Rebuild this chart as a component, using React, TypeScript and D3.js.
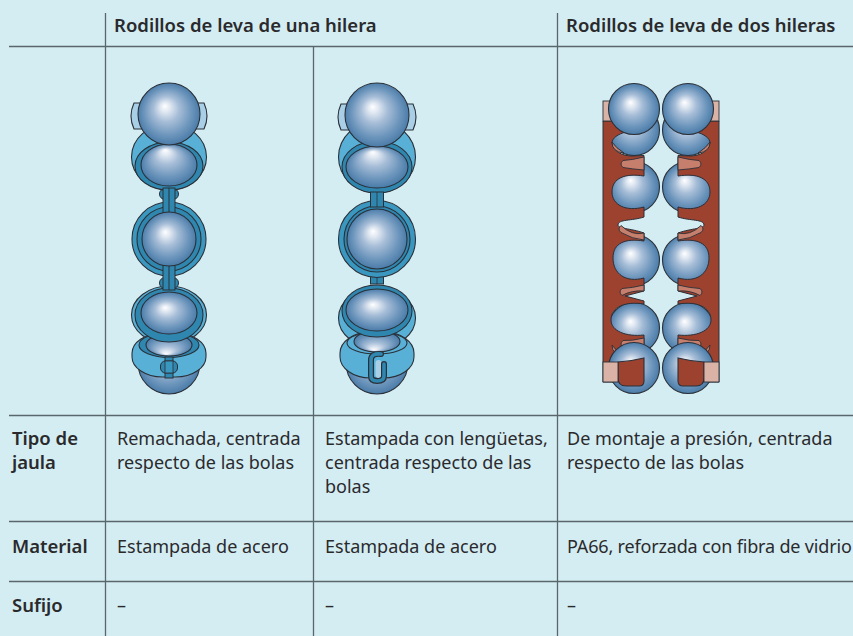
import React from "react";
import * as d3 from "d3";

// table text
const groupHeaders = ["Rodillos de leva de una hilera", "Rodillos de leva de dos hileras"];
const rowHeaders = [["Tipo de", "jaula"], ["Material"], ["Sufijo"]];
const cagePressed = [
  ["Remachada, centrada", "respecto de las bolas"],
  ["Estampada de acero"],
  ["–"],
];
const cageTabbed = [
  ["Estampada con lengüetas,", "centrada respecto de las", "bolas"],
  ["Estampada de acero"],
  ["–"],
];
const cageSnap = [
  ["De montaje a presión, centrada", "respecto de las bolas"],
  ["PA66, reforzada con fibra de vidrio"],
  ["–"],
];
const columns = [cagePressed, cageTabbed, cageSnap];

const WIDTH = 853;
const HEIGHT = 636;
const BG = "#d4edf2";
const RULE = "#59676c";
const INK = "#2a2a2d";
const EDGE = "#2b3038";
const LIGHT = "#58b0d6";
const RING = "#2f87b0";
const TAB = "#a8cfe6";
const RED = "#9e4230";
const FIN = "#c67f6c";
const PALE = "#dbb3a6";
const FONT = "'Noto Sans', sans-serif";

const colX = [117, 325, 567];
const rowBaseline = [445, 553, 612];
const LINE = 24;

type BallProps = { cx: number; cy: number; r: number; ry?: number; shade?: string };

const Ball = ({ cx, cy, r, ry, shade = "ball" }: BallProps) => (
  <ellipse cx={cx} cy={cy} rx={r} ry={ry ?? r} fill={`url(#${shade})`} stroke={EDGE} strokeWidth={1.1} />
);

const Disc = ({ cx, cy, rx, ry, fill }: { cx: number; cy: number; rx: number; ry?: number; fill: string }) => (
  <ellipse cx={cx} cy={cy} rx={rx} ry={ry ?? rx} fill={fill} stroke={EDGE} strokeWidth={1.1} />
);

// lower cage lobe, flatter than an ellipse
const Lobe = ({ cx, y0, y1, half }: { cx: number; y0: number; y1: number; half: number }) => (
  <rect
    x={cx - half}
    y={y0}
    width={half * 2}
    height={y1 - y0}
    rx={half * 0.82}
    ry={(y1 - y0) * 0.46}
    fill={LIGHT}
    stroke={EDGE}
    strokeWidth={1.1}
  />
);

// side tab behind the top ball
const tabPath = (x0: number, x1: number, y0: number, y1: number) => {
  const side = x1 > x0 ? 1 : -1;
  const p = d3.path();
  p.moveTo(x1, y0);
  p.lineTo(x0 + side * 3, y0);
  p.quadraticCurveTo(x0 - side * 3, (y0 + y1) / 2, x0 + side * 3, y1);
  p.lineTo(x1, y1);
  p.closePath();
  return p.toString();
};

// riveted steel cage, one row
const RivetedCage = ({ cx }: { cx: number }) => {
  const bump = (cy: number) => (
    <g>
      <circle cx={cx - 4} cy={cy} r={5.5} fill={RING} stroke={EDGE} strokeWidth={1} />
      <circle cx={cx + 4} cy={cy} r={5.5} fill={RING} stroke={EDGE} strokeWidth={1} />
    </g>
  );
  const neck = (y0: number, y1: number) => (
    <g>
      <rect x={cx - 6} y={y0} width={12} height={y1 - y0} fill={RING} stroke={EDGE} strokeWidth={1} />
      <line x1={cx} x2={cx} y1={y0} y2={y1} stroke={EDGE} strokeWidth={1} />
    </g>
  );
  return (
    <g>
      <Ball cx={cx} cy={363} r={31} />
      <Disc cx={cx} cy={315} rx={37.5} ry={29} fill={LIGHT} />
      <Lobe cx={cx} y0={333} y1={377} half={37} />
      <Disc cx={cx} cy={345} rx={30} ry={12.5} fill={RING} />
      <Ball cx={cx} cy={345} r={23} ry={11} shade="ballBottom" />
      <rect x={cx - 4} y={357} width={8} height={21} fill={RING} stroke={EDGE} strokeWidth={1} />
      <rect x={cx - 8.5} y={361} width={17} height={12} rx={5} fill={RING} stroke={EDGE} strokeWidth={1} />
      <rect x={cx - 4} y={361} width={8} height={12} fill="#3a97bf" stroke={EDGE} strokeWidth={0.8} />
      {bump(194)}
      {bump(283)}
      <Disc cx={cx} cy={315} rx={34} ry={27} fill={RING} />
      <Ball cx={cx} cy={313} r={28} ry={21} />
      <Disc cx={cx} cy={157} rx={37.5} ry={33} fill={LIGHT} />
      <Disc cx={cx} cy={166} rx={34} ry={24} fill={RING} />
      <Ball cx={cx} cy={165} r={28} ry={21} shade="ballTop" />
      <Disc cx={cx} cy={239} rx={37} fill="#3a97bf" />
      <Disc cx={cx} cy={239} rx={32} fill={RING} />
      {neck(188, 214)}
      {neck(264, 290)}
      <Ball cx={cx} cy={239} r={27} />
      <path d={tabPath(cx - 38, cx - 25, 103, 129)} fill={TAB} stroke={EDGE} strokeWidth={1.1} />
      <path d={tabPath(cx + 38, cx + 25, 103, 129)} fill={TAB} stroke={EDGE} strokeWidth={1.1} />
      <Ball cx={cx} cy={114} r={31} />
    </g>
  );
};

// stamped steel cage with hook tab
const TabbedCage = ({ cx }: { cx: number }) => {
  const hook = d3.path();
  hook.moveTo(cx + 4, 354);
  hook.quadraticCurveTo(cx - 6, 353, cx - 6, 360);
  hook.lineTo(cx - 6, 376);
  hook.quadraticCurveTo(cx - 6, 381, cx, 381);
  hook.quadraticCurveTo(cx + 7, 381, cx + 7, 376);
  hook.lineTo(cx + 7, 364);
  const link = (y0: number, y1: number) => (
    <g>
      <rect x={cx - 6.5} y={y0} width={13} height={y1 - y0} fill={RING} stroke={EDGE} strokeWidth={1} />
      <line x1={cx} x2={cx} y1={y0} y2={y1} stroke={EDGE} strokeWidth={0.8} />
    </g>
  );
  return (
    <g>
      <Ball cx={cx} cy={363} r={31} />
      <Disc cx={cx} cy={318} rx={38.5} ry={30} fill={LIGHT} />
      <Lobe cx={cx} y0={332} y1={378} half={37} />
      <Disc cx={cx} cy={343} rx={30} ry={11} fill={LIGHT} />
      <Ball cx={cx} cy={341.5} r={23} ry={10.5} shade="ballBottom" />
      <rect x={cx - 1.5} y={360} width={6} height={18} rx={3} fill={TAB} />
      <path d={hook.toString()} fill="none" stroke={EDGE} strokeWidth={6} strokeLinecap="round" />
      <path d={hook.toString()} fill="none" stroke={RING} strokeWidth={3.6} strokeLinecap="round" />
      {link(268, 284)}
      <Disc cx={cx} cy={311} rx={35} ry={26} fill={RING} />
      <Ball cx={cx} cy={310} r={31} ry={21} />
      <Disc cx={cx} cy={157} rx={38.5} ry={36} fill={LIGHT} />
      <Disc cx={cx} cy={167} rx={35} ry={26} fill={RING} />
      <Ball cx={cx} cy={167} r={31} ry={21} shade="ballTop" />
      <Disc cx={cx} cy={239} rx={38.5} fill="#3a97bf" />
      <Disc cx={cx} cy={239} rx={33} fill={RING} />
      {link(192, 207)}
      <Ball cx={cx} cy={239} r={30} />
      <path d={tabPath(cx - 39, cx - 25, 104, 130)} fill={TAB} stroke={EDGE} strokeWidth={1.1} />
      <path d={tabPath(cx + 39, cx + 25, 104, 130)} fill={TAB} stroke={EDGE} strokeWidth={1.1} />
      <Ball cx={cx} cy={115} r={32} />
    </g>
  );
};

// inner edge of the polyamide cage: pockets and notches, left half
const snapCagePath = () => {
  const x = 644;
  const p = d3.path();
  p.moveTo(603, 121);
  p.lineTo(626, 121);
  p.lineTo(626, 132);
  p.bezierCurveTo(618, 134, 612, 138, 612, 143);
  p.bezierCurveTo(613, 151, 622, 156, 632, 156);
  p.lineTo(x, 155.5);
  p.lineTo(x, 176);
  p.bezierCurveTo(625, 173, 612, 178, 612, 192);
  p.bezierCurveTo(612, 205, 626, 212, x, 207);
  p.lineTo(x, 217);
  p.bezierCurveTo(632, 221, 618, 219, 618, 225);
  p.bezierCurveTo(618, 229, 630, 228, x, 233);
  p.lineTo(x, 241);
  p.bezierCurveTo(625, 238, 613, 243, 613, 258);
  p.bezierCurveTo(613, 274, 626, 283, x, 278);
  p.lineTo(x, 291);
  p.lineTo(625, 296);
  p.lineTo(x, 301);
  p.lineTo(x, 304);
  p.bezierCurveTo(625, 301, 611, 307, 611, 320);
  p.bezierCurveTo(611, 331, 626, 337, x, 335);
  p.lineTo(x, 382);
  p.lineTo(603, 382);
  p.closePath();
  return p.toString();
};

const finPaths = () => {
  // tip x, tip y, top y at bar, bottom y at bar
  const shapes: [number, number, number, number][] = [
    [621, 164, 157, 170],
    [619, 229, 233, 240],
    [620, 292, 285, 291],
    [621, 344, 338, 346],
  ];
  return shapes.map(([tx, ty, y0, y1]) => {
    const p = d3.path();
    p.moveTo(644, y0);
    p.quadraticCurveTo(632, y0 + 3, tx + 2, ty - 3.5);
    p.quadraticCurveTo(tx - 2, ty, tx + 2, ty + 3.5);
    p.quadraticCurveTo(632, y1 - 1, 644, y1);
    p.closePath();
    return p.toString();
  });
};

const crescent = (cy: number) => {
  const p = d3.path();
  p.moveTo(612, cy);
  p.quadraticCurveTo(612, cy + 10, 624, cy + 11);
  p.quadraticCurveTo(616, cy + 6, 612, cy);
  return p.toString();
};

const insertPath = () => {
  const p = d3.path();
  p.moveTo(618, 362);
  p.quadraticCurveTo(632, 361, 644, 358);
  p.lineTo(644, 381);
  p.quadraticCurveTo(644, 386, 639, 386);
  p.lineTo(626, 386);
  p.quadraticCurveTo(618, 386, 618, 378);
  p.closePath();
  return p.toString();
};

const SnapCage = () => {
  const ballsLeft = 634;
  const ballsRight = 688;
  const axis = 661;
  const half = (
    <g>
      <path d={snapCagePath()} fill={RED} stroke={EDGE} strokeWidth={1} />
      {finPaths().map((d, i) => (
        <path key={i} d={d} fill={FIN} stroke={EDGE} strokeWidth={0.9} />
      ))}
      <path d={crescent(142)} fill={FIN} stroke={EDGE} strokeWidth={0.9} />
      <path d={crescent(345)} fill={FIN} stroke={EDGE} strokeWidth={0.9} />
      <rect x={603} y={101} width={30} height={20} fill={PALE} stroke={EDGE} strokeWidth={0.9} />
    </g>
  );
  const rows = [130, 187, 260, 328];
  return (
    <g>
      {rows.map((cy) => (
        <g key={cy}>
          <Ball cx={ballsLeft} cy={cy} r={25.5} />
          <Ball cx={ballsRight} cy={cy} r={25.5} />
        </g>
      ))}
      {half}
      <g transform={`translate(${axis * 2},0) scale(-1,1)`}>{half}</g>
      {[ballsLeft, ballsRight].map((cx) => (
        <g key={cx}>
          <Ball cx={cx} cy={109} r={25.5} />
          <Ball cx={cx} cy={368} r={25.5} />
        </g>
      ))}
      {[0, 1].map((i) => (
        <g key={i} transform={i ? `translate(${axis * 2},0) scale(-1,1)` : undefined}>
          <path d={insertPath()} fill={RED} stroke={EDGE} strokeWidth={1.1} />
          <rect x={603} y={362} width={15} height={20} fill={PALE} stroke={EDGE} strokeWidth={0.9} />
        </g>
      ))}
    </g>
  );
};

const Shade = ({ id, fy }: { id: string; fy: number }) => (
  <radialGradient id={id} cx="0.5" cy="0.5" r="0.52" fx="0.43" fy={fy}>
    <stop offset="0" stopColor="#ffffff" />
    <stop offset="0.14" stopColor="#e3eaf3" />
    <stop offset="0.4" stopColor="#a6bdd7" />
    <stop offset="0.72" stopColor="#6f97bd" />
    <stop offset="1" stopColor="#4578a6" />
  </radialGradient>
);

export default function App() {
  return (
    <svg
      width={WIDTH}
      height={HEIGHT}
      viewBox={`0 0 ${WIDTH} ${HEIGHT}`}
      style={{ position: "absolute", left: 0, top: 0, background: BG, fontFamily: FONT }}
    >
      <defs>
        <Shade id="ball" fy={0.37} />
        <Shade id="ballTop" fy={0.14} />
        <Shade id="ballBottom" fy={0.92} />
      </defs>

      <RivetedCage cx={169} />
      <TabbedCage cx={377} />
      <SnapCage />

      {/* rules */}
      <g stroke={RULE} strokeWidth={1.3}>
        <line x1={105.5} x2={105.5} y1={13} y2={HEIGHT} />
        <line x1={557.5} x2={557.5} y1={13} y2={HEIGHT} />
        <line x1={313.5} x2={313.5} y1={46} y2={HEIGHT} />
        {[46, 415, 521, 581].map((y) => (
          <line key={y} x1={9} x2={WIDTH} y1={y + 0.5} y2={y + 0.5} />
        ))}
      </g>

      {/* headers */}
      <g fill={INK} fontSize={18.5} fontWeight={600}>
        <text x={114} y={32}>{groupHeaders[0]}</text>
        <text x={566} y={32}>{groupHeaders[1]}</text>
        {rowHeaders.map((lines, r) =>
          lines.map((t, i) => (
            <text key={t} x={12} y={rowBaseline[r] + i * LINE}>{t}</text>
          ))
        )}
      </g>

      {/* cells */}
      <g fill={INK} fontSize={18}>
        {columns.map((col, c) =>
          col.map((lines, r) =>
            lines.map((t, i) => (
              <text
                key={`${c}-${r}-${i}`}
                x={colX[c]}
                y={rowBaseline[r] + i * LINE}
                letterSpacing={t.startsWith("PA66") ? -0.17 : undefined}
              >
                {t}
              </text>
            ))
          )
        )}
      </g>
    </svg>
  );
}
